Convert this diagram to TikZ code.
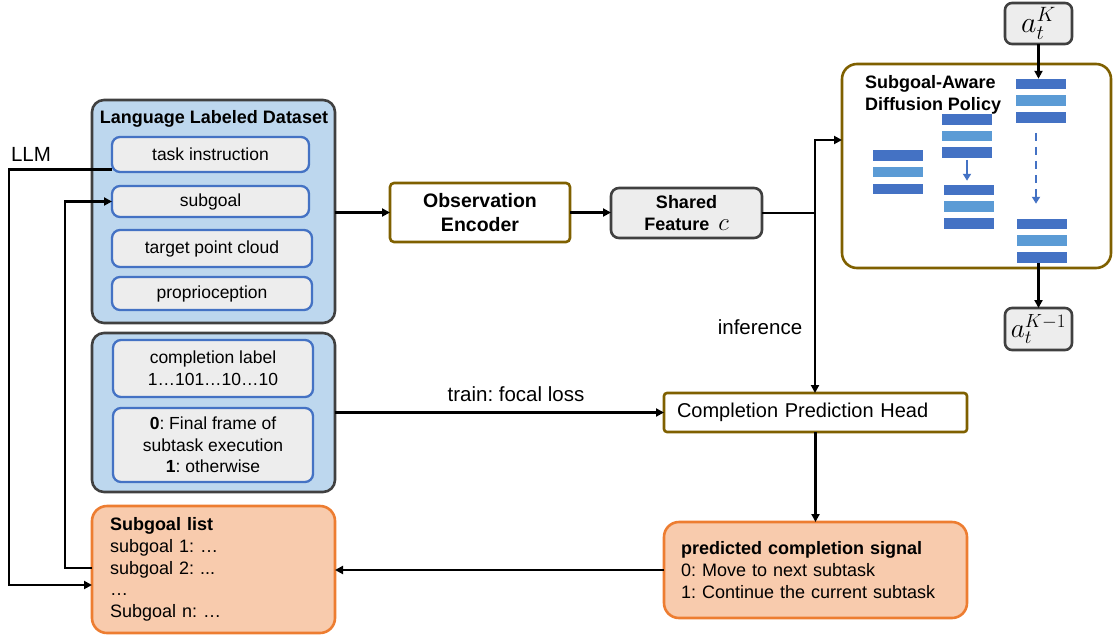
\documentclass[tikz,border=0pt]{standalone}
\usepackage{fontspec}
\usepackage{graphicx}
\setmainfont{Liberation Sans}
\usetikzlibrary{arrows.meta,calc}
\definecolor{lblue}{HTML}{BDD7EE}
\definecolor{dgray}{HTML}{404040}
\definecolor{igray}{HTML}{EDEDED}
\definecolor{mblue}{HTML}{4472C4}
\definecolor{sblue}{HTML}{5B9BD5}
\definecolor{ofill}{HTML}{F8CBAD}
\definecolor{oline}{HTML}{ED7D31}
\definecolor{bline}{HTML}{7F6000}
\newcommand\myfs[2]{\fontsize{#1}{#2}\selectfont}
\frenchspacing
\begin{document}
\begin{tikzpicture}[x=1pt,y=-1pt,
  every node/.style={inner sep=0pt, outer sep=0pt},
  outerbox/.style={draw=dgray, fill=lblue, line width=2.6pt, rounded corners=12pt},
  innerbox/.style={draw=mblue, fill=igray, line width=2.3pt, rounded corners=8pt, font=\myfs{17.5}{21.7}, align=center},
  obox/.style={draw=oline, fill=ofill, line width=2.6pt, rounded corners=15pt, align=left, font=\myfs{18}{21.7}},
  wbox/.style={draw=bline, fill=white, line width=2.6pt},
  gbox/.style={draw=dgray, fill=igray, line width=2.6pt, rounded corners=8pt},
  arr/.style={line width=2.8pt, -{Triangle[length=8pt,width=8pt]}},
  ln/.style={line width=2.8pt},
  dbar/.style={fill=mblue, minimum width=50pt, minimum height=10.5pt},
  lbar/.style={fill=sblue, minimum width=50pt, minimum height=10.5pt},
  lbl/.style={font=\myfs{20.5}{24}},
  barr/.style={draw=mblue, line width=1.8pt, -{Triangle[length=7pt,width=8pt]}}
]
\useasboundingbox (0,0) rectangle (1114,635);

% ---- dataset box ----
\node[outerbox, minimum width=243pt, minimum height=223pt] (ds) at (213.5,211.5) {};
\node[font=\bfseries\myfs{18}{21}] (dstitle) at (214,119) {Language Labeled Dataset};
\node[innerbox, minimum width=197pt, minimum height=35pt] (task) at (210.5,154.5) {task instruction};
\node[innerbox, minimum width=197pt, minimum height=31pt] (subgoal) at (210.5,201.5) {subgoal};
\node[innerbox, minimum width=200pt, minimum height=37pt] (target) at (212,248.5) {target point cloud};
\node[innerbox, minimum width=200pt, minimum height=33pt] (proprio) at (212,293.5) {proprioception};

% ---- label box ----
\node[outerbox, minimum width=243pt, minimum height=159pt] (lab) at (213.5,412.5) {};
\node[innerbox, minimum width=200pt, minimum height=57pt] (clabel) at (213,368.5) {completion label\\1…101…10…10};
\node[innerbox, minimum width=200pt, minimum height=74pt] (cdef) at (213,445) {\textbf{0}: Final frame of\\subtask execution\\\textbf{1}: otherwise};

% ---- subgoal list ----
\node[obox, minimum width=243pt, minimum height=127pt, text width=207pt, inner xsep=18pt] (list) at (213.5,569.5)
  {\textbf{Subgoal list}\\subgoal 1: …\\subgoal 2: ...\\…\\Subgoal n: …};

% ---- encoder / feature ----
\node[wbox, rounded corners=4pt, minimum width=180pt, minimum height=59pt, align=center, font=\bfseries\myfs{19.5}{24}] (obs) at (480,212.5) {Observation\\Encoder};
\node[gbox, minimum width=151pt, minimum height=50pt, align=center, font=\bfseries\myfs{18}{22}] (shared) at (686.5,213) {Shared\\Feature\hspace{9pt}{\myfs{24}{22}$c$}};

% ---- diffusion policy ----
\node[draw=bline, fill=white, line width=2.6pt, rounded corners=15pt, minimum width=269pt, minimum height=204pt] (diff) at (976.5,166) {};
\node[anchor=west, align=left, font=\bfseries\myfs{18}{22}] (dtitle) at (865,95) {Subgoal-Aware\\Diffusion Policy};
\node[gbox, rounded corners=7pt, minimum width=67pt, minimum height=41pt, font=\myfs{26}{28}] (aK) at (1038.5,23.5) {\scalebox{1.2}{$a_t^K$}};
\node[gbox, rounded corners=7pt, minimum width=67pt, minimum height=42pt, font=\myfs{26}{28}] (aK1) at (1038.5,329) {\scalebox{1.1}{$a_t^{K-1}$}};

\node[dbar] (b11) at (898,155.5) {};
\node[lbar] (b12) at (898,172) {};
\node[dbar] (b13) at (898,189) {};
\node[dbar] (b21) at (967,119.5) {};
\node[lbar] (b22) at (967,136) {};
\node[dbar] (b23) at (967,152.5) {};
\node[dbar] (b24) at (968.5,190) {};
\node[lbar] (b25) at (968.5,206.5) {};
\node[dbar] (b26) at (968.5,223.5) {};
\node[dbar] (b31) at (1041,84) {};
\node[lbar] (b32) at (1041,100.5) {};
\node[dbar] (b33) at (1041,117.5) {};
\node[dbar] (b34) at (1041.5,224) {};
\node[lbar] (b35) at (1041.5,240.5) {};
\node[dbar] (b36) at (1041.5,257.5) {};

\draw[barr] ($(b23.south)+(0,2)$) -- ($(b23.south |- b24.north)+(0,-4)$);
\draw[barr, dash pattern=on 8pt off 6pt] ($(b33.south)+(-5,10)$) -- ($(b34.north)+(-5.5,-15)$);
\draw[arr] (aK.south) -- (aK.south |- b31.north);
\draw[arr] (aK1.north |- b36.south) -- (aK1.north);

% ---- completion head ----
\node[wbox, rounded corners=3pt, minimum width=303pt, minimum height=39pt, text width=277pt, inner xsep=13pt, align=left, font=\myfs{20}{24}] (cph) at (815.5,412.5) {Completion Prediction Head};
\node[obox, minimum width=303pt, minimum height=96pt, text width=269pt, inner xsep=17pt] (pred) at (815.5,570)
  {\textbf{predicted completion signal}\\0: Move to next subtask\\1: Continue the current subtask};

% ---- labels ----
\node[lbl] (llm) at (31,154) {LLM};
\node[lbl] (inf) at (760,327) {inference};
\node[lbl] (train) at (516,394) {train: focal loss};

% ---- connectors ----
\coordinate (llmx) at (9,400);
\coordinate (sgx) at (65,400);
\coordinate (j) at (815,213);
\draw[arr] ($(task.west)+(0,15)$) -| (llmx) |- ($(list.west)+(0,15.5)$);
\draw[arr] ($(list.west)+(0,-1.5)$) -| (sgx) |- (subgoal.west);
\draw[arr] (ds.east |- obs.west) -- (obs.west);
\draw[arr] (obs.east) -- (obs.east -| shared.west);
\draw[ln] (shared.east) -- (j);
\draw[arr] (j) |- ($(diff.west)+(0,-26)$);
\draw[arr] (j) -- (j |- cph.north);
\draw[arr] (lab.east |- cph.west) -- (cph.west);
\draw[arr] (cph.south) -- (pred.north);
\draw[arr] (pred.west) -- (pred.west -| list.east);
\end{tikzpicture}
\end{document}
